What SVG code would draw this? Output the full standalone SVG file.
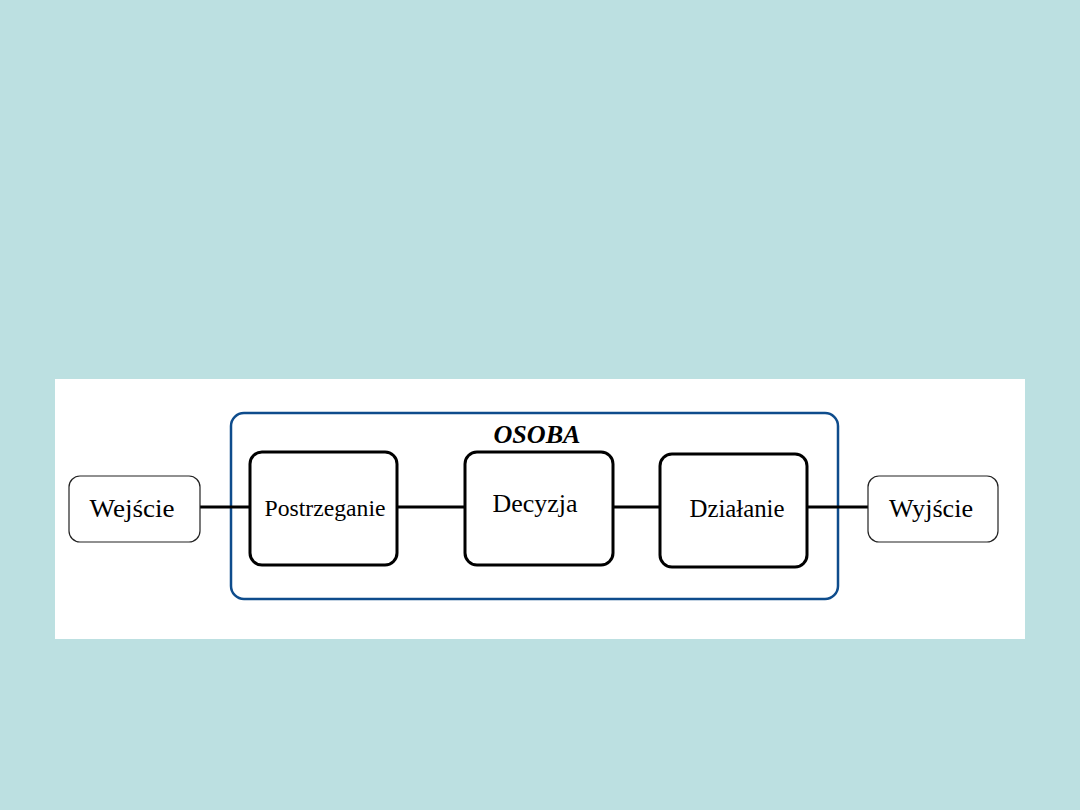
<svg xmlns="http://www.w3.org/2000/svg" width="1080" height="810" viewBox="0 0 1080 810">
<style>
.t{font-family:"Liberation Serif","Times New Roman",serif;fill:#000;text-anchor:middle}
.in{fill:#fff;stroke:#000;stroke-width:3}
.out{fill:#fff;stroke:#222;stroke-width:1.2}
.c{stroke:#000;stroke-width:3;fill:none}
</style>
<rect width="1080" height="810" fill="#bce0e1"/>
<rect x="55" y="379" width="970" height="260" fill="#fff"/>
<g id="osoba">
<rect x="231" y="413" width="607" height="186" rx="13" fill="none" stroke="#0e4c8c" stroke-width="2.5"/>
<text class="t" x="537" y="443" font-size="25" font-style="italic" font-weight="bold" textLength="87" lengthAdjust="spacingAndGlyphs">OSOBA</text>
</g>
<g id="connectors">
<line class="c" x1="200" y1="507" x2="250" y2="507"/>
<line class="c" x1="397" y1="507" x2="465" y2="507"/>
<line class="c" x1="613" y1="507" x2="660" y2="507"/>
<line class="c" x1="807" y1="507" x2="868" y2="507"/>
</g>
<g id="wejscie">
<rect class="out" x="69" y="476" width="131" height="66" rx="11"/>
<text class="t" x="132" y="517" font-size="26" textLength="85" lengthAdjust="spacingAndGlyphs">Wejście</text>
</g>
<g id="postrzeganie">
<rect class="in" x="250" y="452" width="147" height="113" rx="12"/>
<text class="t" x="325" y="516" font-size="23" textLength="121" lengthAdjust="spacingAndGlyphs">Postrzeganie</text>
</g>
<g id="decyzja">
<rect class="in" x="465" y="452" width="148" height="113" rx="12"/>
<text class="t" x="535" y="512" font-size="26" textLength="85" lengthAdjust="spacingAndGlyphs">Decyzja</text>
</g>
<g id="dzialanie">
<rect class="in" x="660" y="454" width="147" height="113" rx="12"/>
<text class="t" x="737" y="517" font-size="25" textLength="95" lengthAdjust="spacingAndGlyphs">Działanie</text>
</g>
<g id="wyjscie">
<rect class="out" x="868" y="476" width="130" height="66" rx="11"/>
<text class="t" x="931" y="517" font-size="26" textLength="84" lengthAdjust="spacingAndGlyphs">Wyjście</text>
</g>
</svg>
